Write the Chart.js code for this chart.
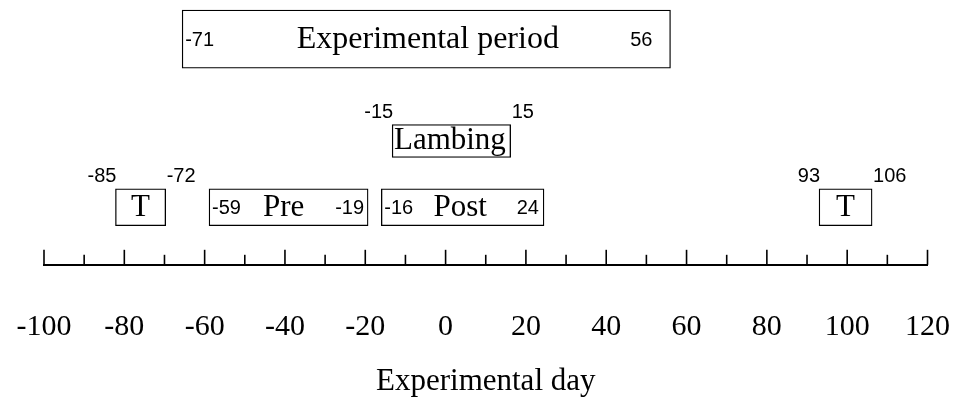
<!DOCTYPE html>
<html>
<head>
<meta charset="utf-8">
<script src="https://cdn.jsdelivr.net/npm/chart.js@4"></script>
<style>
  html, body { margin: 0; padding: 0; background: #fff; }
  #wrap { width: 953px; height: 402px; }
</style>
</head>
<body>
<div id="wrap"><canvas id="myChart"></canvas></div>
<script>
// boxes on the timeline (edges as drawn), and the day numbers printed next to them
const boxNames = ['Experimental period', 'T', 'Pre', 'Post', 'T', 'Lambing'];
const boxStart = [-65.6, -82.2, -58.9, -16, 93, -13.3];
const boxEnd = [56, -69.7, -19.3, 24.5, 106.2, 16.2];
const startLabels = ['-71', '-85', '-59', '-16', '93', '-15'];
const endLabels = ['56', '-72', '-19', '24', '106', '15'];
const boxRows = ['period', 'phase', 'phase', 'phase', 'phase', 'lambing'];
const axisTitle = 'Experimental day';

// layout / style
const rowLevel = { period: 3.92, lambing: 2.15, phase: 1 };
const rowThickness = { period: 58, lambing: 33, phase: 37 };
const numbersInside = [true, false, true, true, false, false];
const endInset = [18, 0, 4, 5, 0, 0];
const nameShift = [1.5, 0, -5, -2.5, 0, -1.5];
const serif = "'Times New Roman', 'Liberation Serif', serif";
const sans = "Arial, 'Liberation Sans', sans-serif";

const boxText = {
    id: 'boxText',
    afterDatasetsDraw(chart) {
        const ctx = chart.ctx;
        ctx.save();
        ctx.fillStyle = '#000';
        boxNames.forEach((name, i) => {
            const bar = chart.getDatasetMeta(i).data[0].getProps(['x', 'y', 'base', 'height'], true);
            const left = Math.min(bar.x, bar.base);
            const right = Math.max(bar.x, bar.base);
            const top = bar.y - bar.height / 2;
            const size = i === 0 ? 32 : 31;

            ctx.font = size + 'px ' + serif;
            ctx.textAlign = 'center';
            ctx.textBaseline = 'alphabetic';
            ctx.fillText(name, (left + right) / 2 + nameShift[i], bar.y + size * 0.27);

            ctx.font = '20px ' + sans;
            if (numbersInside[i]) {
                ctx.textAlign = 'left';
                ctx.fillText(startLabels[i], left + 3, bar.y + 7);
                ctx.textAlign = 'right';
                ctx.fillText(endLabels[i], right - endInset[i], bar.y + 7);
            } else {
                ctx.textAlign = 'right';
                ctx.fillText(startLabels[i], left + 1, top - 7);
                ctx.textAlign = 'left';
                ctx.fillText(endLabels[i], right + 1, top - 7);
            }
        });
        ctx.restore();
    }
};

// tick marks pointing up from the axis line, long every 20 days
const axisTicks = {
    id: 'axisTicks',
    afterDraw(chart) {
        const scale = chart.scales.x;
        const ctx = chart.ctx;
        ctx.save();
        ctx.strokeStyle = '#000';
        ctx.lineWidth = 1.6;
        scale.ticks.forEach(t => {
            const px = scale.getPixelForValue(t.value);
            const len = t.value % 20 === 0 ? 15 : 10;
            ctx.beginPath();
            ctx.moveTo(px, scale.top);
            ctx.lineTo(px, scale.top - len);
            ctx.stroke();
        });
        ctx.restore();
    }
};

const datasets = boxNames.map((name, i) => ({
    label: name,
    data: [{ x: [boxStart[i], boxEnd[i]], y: rowLevel[boxRows[i]] }],
    backgroundColor: '#fff',
    borderColor: '#000',
    borderWidth: 1.3,
    borderSkipped: false,
    barThickness: rowThickness[boxRows[i]],
    grouped: false
}));

new Chart(document.getElementById('myChart'), {
    type: 'bar',
    data: { datasets },
    options: {
        indexAxis: 'y',
        responsive: true,
        maintainAspectRatio: false,
        animation: false,
        layout: { padding: { left: 44, right: 25, top: 0, bottom: 0 } },
        plugins: {
            legend: { display: false },
            tooltip: { enabled: false }
        },
        scales: {
            x: {
                type: 'linear',
                min: -100,
                max: 120,
                // invisible built-in ticks only push the labels down; visible ticks come from axisTicks
                grid: {
                    display: true,
                    drawOnChartArea: false,
                    drawTicks: true,
                    tickLength: 41,
                    tickColor: 'rgba(0,0,0,0)'
                },
                border: { display: true, color: '#000', width: 2 },
                ticks: {
                    stepSize: 10,
                    autoSkip: false,
                    maxRotation: 0,
                    padding: 3,
                    color: '#000',
                    font: { family: serif, size: 30 },
                    callback: v => (v % 20 === 0 ? String(v) : '')
                },
                title: {
                    display: true,
                    text: axisTitle,
                    color: '#000',
                    font: { family: serif, size: 31 },
                    padding: { top: 15, bottom: 2 }
                }
            },
            y: { type: 'linear', display: false, offset: false, min: 0, max: 4.6 }
        }
    },
    plugins: [boxText, axisTicks]
});
</script>
</body>
</html>
